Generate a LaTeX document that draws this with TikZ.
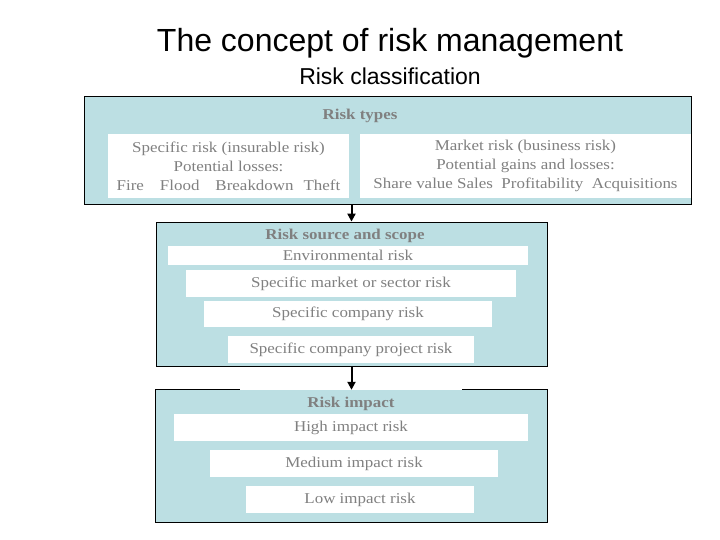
\documentclass[tikz,border=0pt]{standalone}
\usepackage{fontspec}
\setmainfont{Liberation Serif}[FakeStretch=1.13]
\newfontfamily\headfont{Liberation Sans}
\usetikzlibrary{arrows.meta,positioning}
\definecolor{panelblue}{HTML}{BCDFE3}
\definecolor{labelgrey}{HTML}{808080}

\begin{document}
\begin{tikzpicture}[
  x=1pt, y=-1pt,
  panel/.style={fill=panelblue, inner sep=0pt},
  frame/.style={line width=0.8pt},
  bar/.style={fill=white, inner sep=0pt, font=\fontsize{15}{19}\selectfont, text=labelgrey, align=center},
  heading/.style={inner sep=0pt, font=\fontsize{15}{17}\selectfont\bfseries, text=labelgrey},
  flow/.style={-{Triangle[length=8pt,width=8pt]}, line width=2pt},
]
  \useasboundingbox (0,0) rectangle (720,540);

  % Title
  \node[font=\headfont\fontsize{32}{36}\selectfont] (title) at (390,43) {The concept of risk management};
  \node[font=\headfont\fontsize{23}{26}\selectfont] (subtitle) at (390,76) {Risk classification};

  % Risk types
  \node[panel, draw, frame, minimum width=607, minimum height=108] (types) at (387.5,150) {};
  \node[heading] (typeshead) at (360,116) {Risk types};
  \node[bar, minimum width=241, minimum height=64] (specific) at (228.5,166)
    {Specific risk (insurable risk)\\Potential losses:\\Fire\hspace{16pt}Flood\hspace{16pt}Breakdown\hspace{10pt}Theft};
  \node[bar, minimum width=331, minimum height=64] (market) at (525.5,166)
    {Market risk (business risk)\\Potential gains and losses:\\Share value\ Sales\ \ Profitability\ \ Acquisitions};

  % Risk source and scope
  \node[panel, draw, frame, minimum width=391, minimum height=144] (source) at (351.5,294) {};
  \node[heading] (sourcehead) at (345,236) {Risk source and scope};
  \node[bar, minimum width=360, minimum height=19] (environ) at (348,255.5) {Environmental risk};
  \node[bar, minimum width=330, minimum height=27] (sector) at (351,283.5) {Specific market or sector risk};
  \node[bar, minimum width=288, minimum height=26] (company) at (348,314) {Specific company risk};
  \node[bar, minimum width=246, minimum height=27] (project) at (351,349.5) {Specific company project risk};

  % Risk impact
  \node[panel, minimum width=391, minimum height=132] (impact) at (351.5,456) {};
  \draw[frame] ([xshift=84pt]impact.north west) -- (impact.north west) -- (impact.south west)
    -- (impact.south east) -- (impact.north east) -- ([xshift=-85pt]impact.north east);
  \node[heading] (impacthead) at (351,404) {Risk impact};
  \node[bar, minimum width=354, minimum height=27] (high) at (351,427.5) {High impact risk};
  \node[bar, minimum width=288, minimum height=27] (medium) at (354,463.5) {Medium impact risk};
  \node[bar, minimum width=228, minimum height=27] (low) at (360,499.5) {Low impact risk};

  % Connectors
  \draw[flow] (types.south -| source.north) -- (source.north);
  \draw[flow] (source.south) -- (impact.north);
\end{tikzpicture}
\end{document}
